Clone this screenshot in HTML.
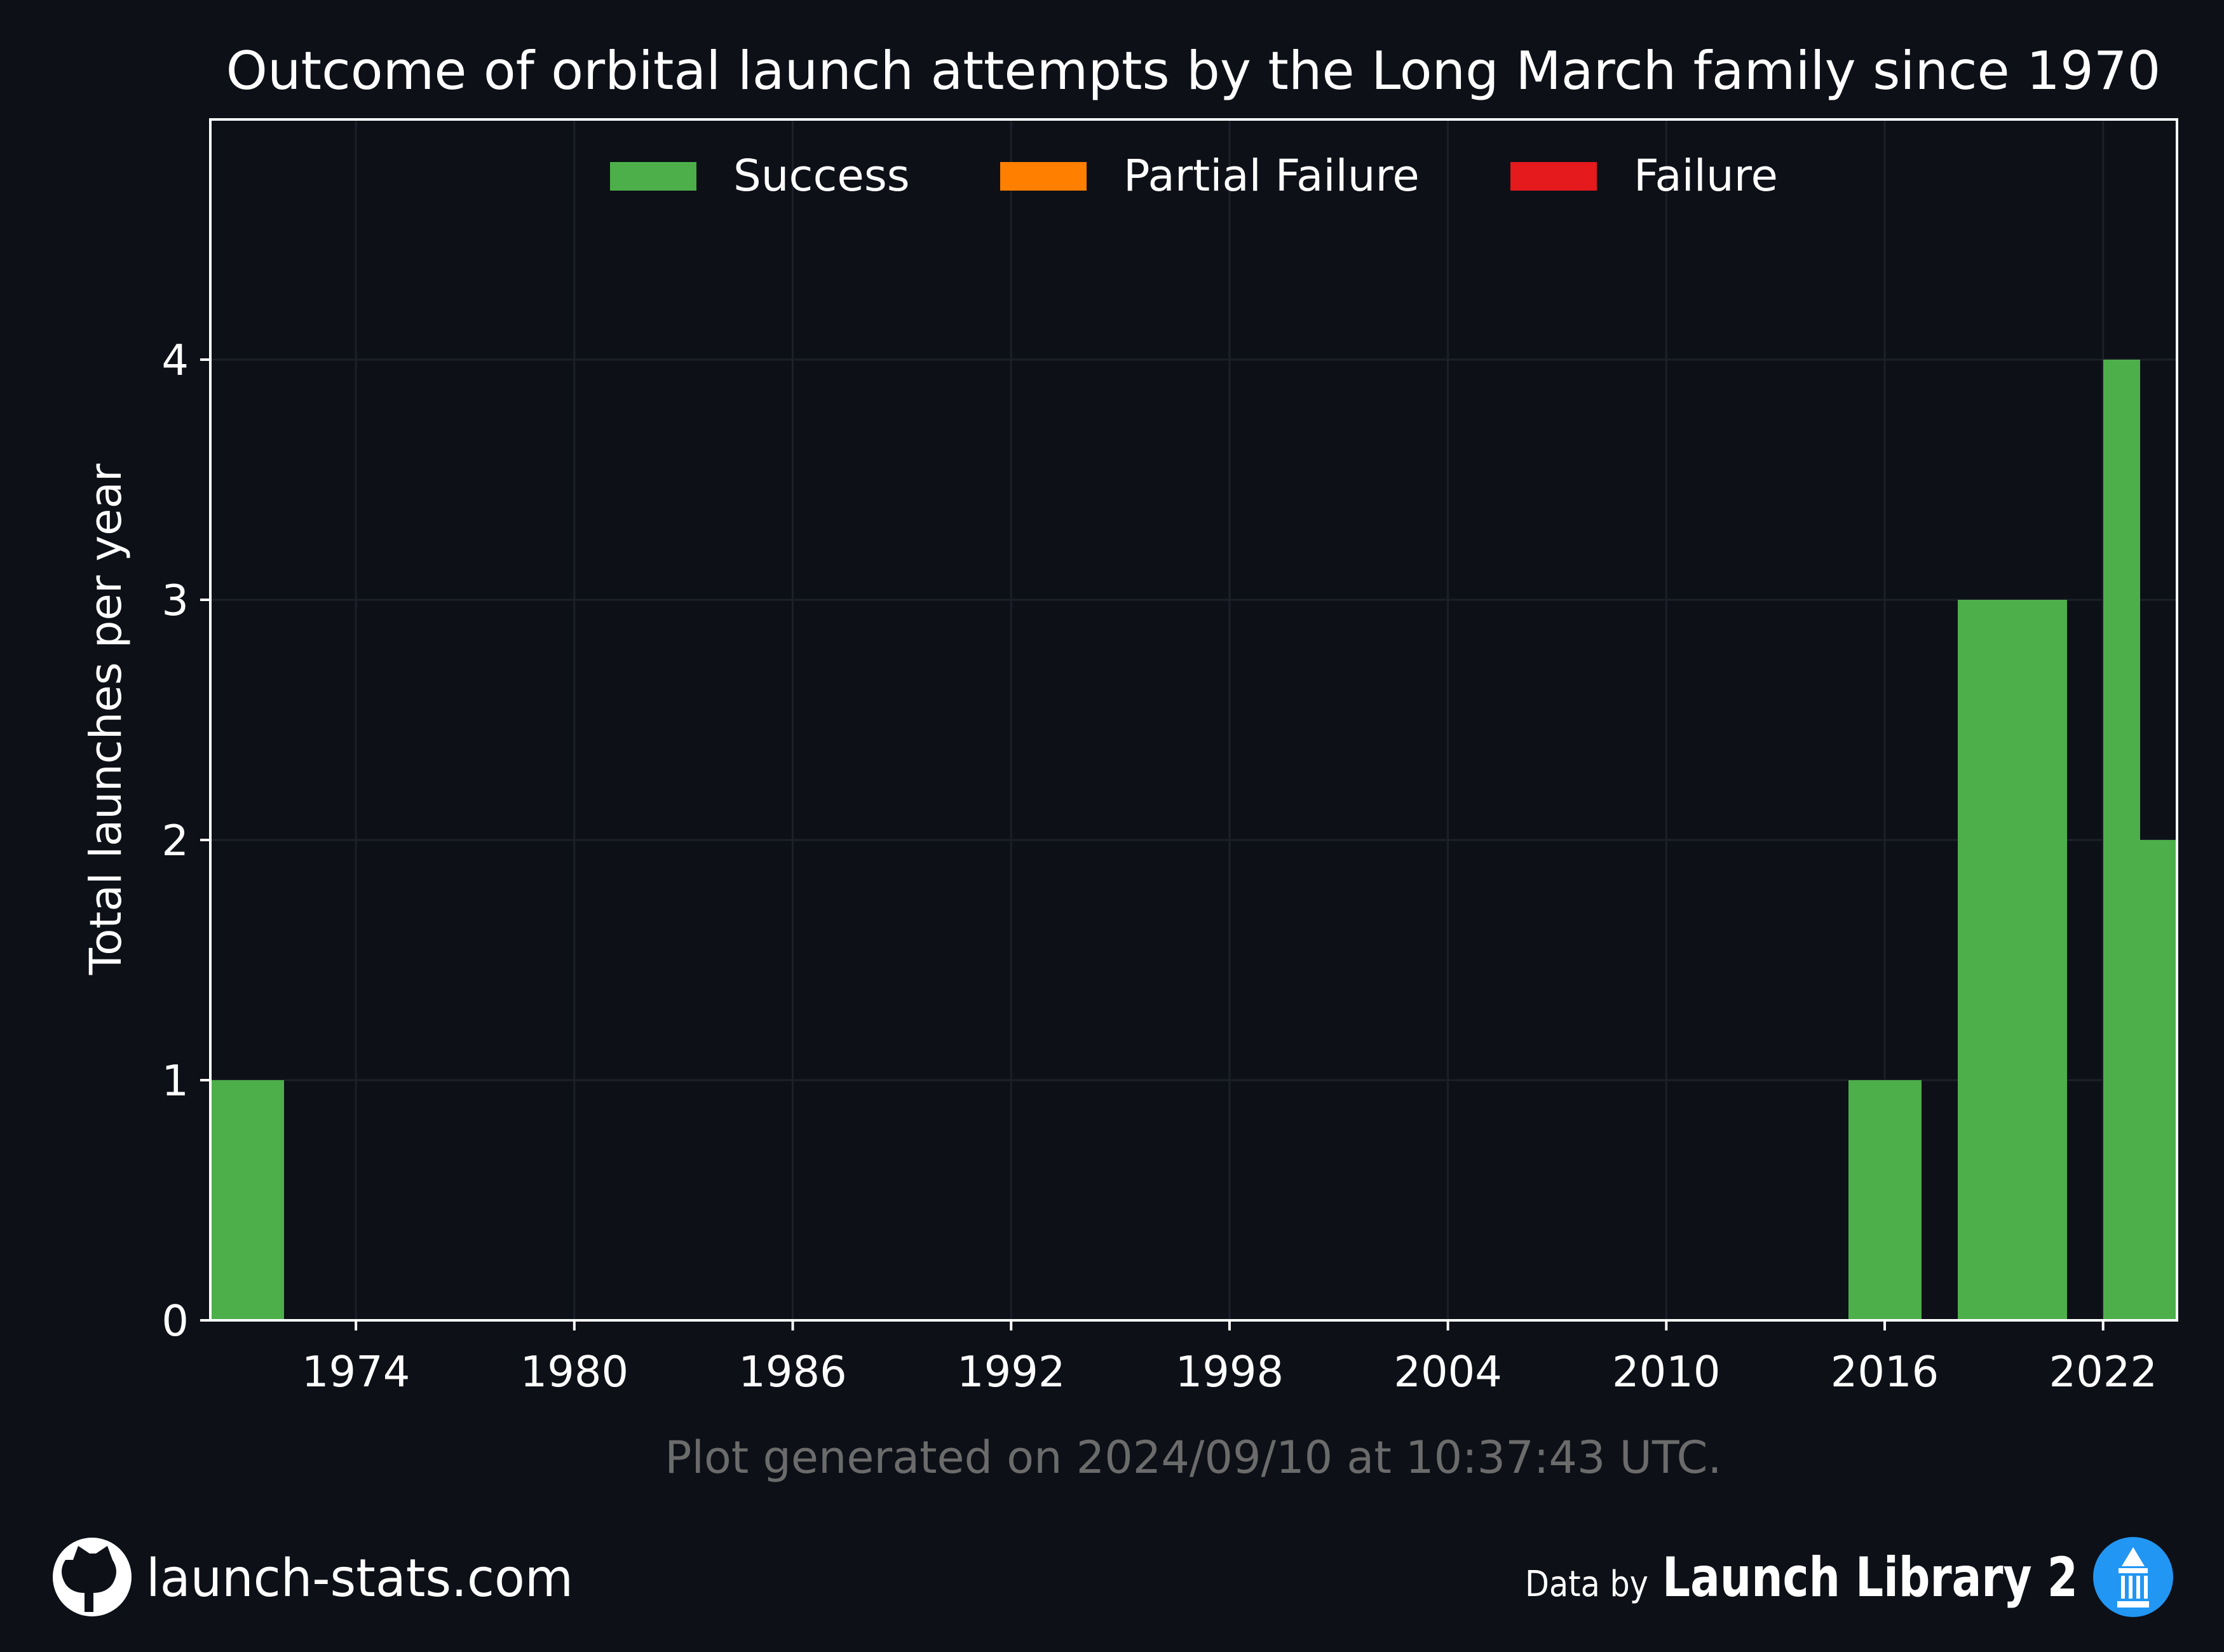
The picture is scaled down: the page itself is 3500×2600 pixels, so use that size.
<!DOCTYPE html>
<html><head><meta charset="utf-8"><style>
html,body{margin:0;padding:0;background:#0d1017;overflow:hidden;width:3500px;height:2600px;}
svg{display:block;}
svg text{font-family:"DejaVu Sans","Liberation Sans",sans-serif;}
</style></head><body>
<svg width="3500" height="2600" viewBox="0 0 3500 2600" xmlns="http://www.w3.org/2000/svg">
<rect width="3500" height="2600" fill="#0d1017"/>
<text x="1878" y="140" font-size="83" fill="#ffffff" text-anchor="middle">Outcome of orbital launch attempts by the Long March family since 1970</text>
<g id="grid"></g>
<g id="bars" shape-rendering="crispEdges"></g>
<rect x="3428" y="150" width="72" height="2000" fill="#0d1017"/>
<rect x="331" y="188" width="3095" height="1890" fill="none" stroke="#ffffff" stroke-width="4"/>
<g id="xticks"></g>
<g id="yticks"></g>
<text transform="translate(190,1132) rotate(-90)" font-size="69" fill="#ffffff" text-anchor="middle">Total launches per year</text>
<g>
<g><rect x="960" y="255" width="136" height="45" fill="#4daf4a"/><text x="1154" y="300" font-size="69" fill="#fff">Success</text></g>
<g><rect x="1574" y="255" width="136" height="45" fill="#ff7f00"/><text x="1768" y="300" font-size="69" fill="#fff">Partial Failure</text></g>
<g><rect x="2377" y="255" width="136" height="45" fill="#e41a1c"/><text x="2571" y="300" font-size="69" fill="#fff">Failure</text></g>
</g>
<text x="1878" y="2318" font-size="70" fill="#6b6b6b" text-anchor="middle">Plot generated on 2024/09/10 at 10:37:43 UTC.</text>
<g><circle cx="145" cy="2482" r="62" fill="#fff"/><path d="M115 2455 l8 -22 l18 12 h10 l18 -12 l8 22 q12 18 0 38 q-10 14 -30 14 v30 h-14 v-30 q-20 0 -30 -14 q-12 -20 0 -38z" fill="#0d1017"/></g>
<text x="230" y="2512" font-size="82" fill="#fff" textLength="672" lengthAdjust="spacingAndGlyphs">launch-stats.com</text>
<text x="2400" y="2512" font-size="56" fill="#fff" textLength="194" lengthAdjust="spacingAndGlyphs">Data by</text>
<text x="2616" y="2512" font-size="86" font-weight="bold" fill="#fff" textLength="654" lengthAdjust="spacingAndGlyphs">Launch Library 2</text>
<g><circle cx="3357" cy="2482" r="63" fill="#2196f3"/><path d="M3357 2435 l-18 30 h36z" fill="#fff"/><rect x="3334" y="2468" width="46" height="8" fill="#fff"/><rect x="3338" y="2480" width="6" height="36" fill="#fff"/><rect x="3350" y="2480" width="6" height="36" fill="#fff"/><rect x="3362" y="2480" width="6" height="36" fill="#fff"/><rect x="3374" y="2480" width="6" height="36" fill="#fff"/><rect x="3332" y="2520" width="50" height="10" fill="#fff"/></g>
</svg>
<script>
const years = [1970, 1971, 2015, 2016, 2018, 2019, 2020, 2022, 2023];
const successValues = [1, 1, 1, 1, 3, 3, 3, 4, 2];
const partialValues = [0, 0, 0, 0, 0, 0, 0, 0, 0];
const failureValues = [0, 0, 0, 0, 0, 0, 0, 0, 0];
const xTicks = [1974, 1980, 1986, 1992, 1998, 2004, 2010, 2016, 2022];
const yTicks = [0, 1, 2, 3, 4];
const X0=331, X1=3426, Y0=2078, Y1=188, XMIN=1970, XMAX=2024.03, YMAX=5;
const xs = v => X0 + (v - XMIN) / (XMAX - XMIN) * (X1 - X0);
const ys = v => Y0 - v / YMAX * (Y0 - Y1);
const NS = 'http://www.w3.org/2000/svg';
function mk(tag, attrs, parent){const e=document.createElementNS(NS,tag);for(const k in attrs)e.setAttribute(k,attrs[k]);parent.appendChild(e);return e;}
const grid=document.getElementById('grid'), bars=document.getElementById('bars'), xg=document.getElementById('xticks'), yg=document.getElementById('yticks');
xTicks.forEach(t=>{
  const x=xs(t);
  const l=mk('line',{x1:x,x2:x,y1:Y1,y2:Y0,stroke:'#1c2029','stroke-width':3},grid);
  
  
  const tk=mk('line',{x1:x,x2:x,y1:Y0,y2:Y0+16,stroke:'#fff','stroke-width':4},xg);
  
  
  const tx=mk('text',{x:x,y:Y0+104,'font-size':67,fill:'#fff','text-anchor':'middle'},xg);
  tx.textContent=t;
  
  
});
yTicks.forEach(t=>{
  const y=ys(t);
  if(t>0){const l=mk('line',{x1:X0,x2:X1,y1:y,y2:y,stroke:'#1c2029','stroke-width':3},grid);
  
  }
  const tk=mk('line',{x1:X0-16,x2:X0,y1:y,y2:y,stroke:'#fff','stroke-width':4},yg);
  
  
  const tx=mk('text',{x:X0-34,y:y+24,'font-size':67,fill:'#fff','text-anchor':'end'},yg);
  tx.textContent=t;
  
  
});
years.forEach((yr,i)=>{
  const xa=Math.max(X0, Math.round(xs(yr)));
  const xb=Math.min(X1, Math.round(xs(yr+1))+1);
  if(xb<=xa) return;
  let base=0;
  [[successValues,'#4daf4a'],[partialValues,'#ff7f00'],[failureValues,'#e41a1c']].forEach(([arr,c])=>{
    const v=arr[i]; if(!v) return;
    const r=mk('rect',{x:xa,y:ys(base+v),width:xb-xa,height:ys(base)-ys(base+v),fill:c},bars);
    
    
    base+=v;
  });
});
</script>
</body></html>
